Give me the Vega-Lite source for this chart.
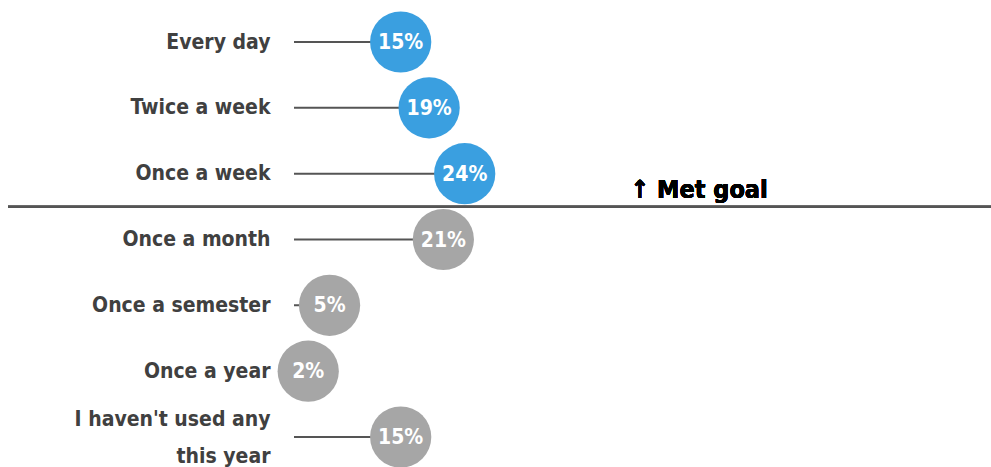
{
  "$schema": "https://vega.github.io/schema/vega-lite/v6.json",
  "width": 983,
  "height": 467,
  "autosize": {"type": "none"},
  "padding": {"left": 8, "right": 0, "top": 0, "bottom": 0},
  "config": {"view": {"stroke": null}, "font": "DejaVu Sans Condensed, Roboto, sans-serif"},
  "data": {
    "values": [
      {"category": "Every day", "value": 0.15, "zero": 0, "met": "yes"},
      {"category": "Twice a week", "value": 0.19, "zero": 0, "met": "yes"},
      {"category": "Once a week", "value": 0.24, "zero": 0, "met": "yes"},
      {"category": "Once a month", "value": 0.21, "zero": 0, "met": "no"},
      {"category": "Once a semester", "value": 0.05, "zero": 0, "met": "no"},
      {"category": "Once a year", "value": 0.02, "zero": 0, "met": "no"},
      {"category": "I haven't used any|this year", "value": 0.15, "zero": 0, "met": "no"}
    ]
  },
  "layer": [
    {
      "mark": {"type": "rule", "color": "#555555", "strokeWidth": 2},
      "encoding": {
        "y": {
          "field": "category",
          "type": "nominal",
          "sort": null,
          "scale": {"type": "point", "range": [42, 437], "padding": 0},
          "axis": {
            "title": null,
            "domain": false,
            "ticks": false,
            "grid": false,
            "offset": -286,
            "labelPadding": 24,
            "labelLimit": 400,
            "labelFont": "DejaVu Sans Condensed, Roboto, sans-serif",
            "labelFontWeight": "bold",
            "labelFontSize": 21,
            "labelColor": "#404040",
            "labelLineHeight": 37,
            "labelOffset": {"condition": {"test": "indexof(datum.value, '|') >= 0", "value": -18}, "value": 0},
            "labelExpr": "split(datum.label, '|')"
          }
        },
        "x": {"field": "zero", "type": "quantitative", "scale": {"domain": [0, 0.98], "range": [286, 983], "zero": false, "nice": false}, "axis": null},
        "x2": {"field": "value"}
      }
    },
    {
      "mark": {"type": "circle", "size": 3750, "opacity": 1},
      "encoding": {
        "y": {"field": "category", "type": "nominal", "sort": null},
        "x": {"field": "value", "type": "quantitative"},
        "color": {"field": "met", "type": "nominal", "scale": {"domain": ["yes", "no"], "range": ["#3A9FE0", "#A6A6A6"]}, "legend": null}
      }
    },
    {
      "mark": {"type": "text", "color": "white", "fontWeight": "bold", "fontSize": 21, "font": "DejaVu Sans Condensed, Roboto, sans-serif", "align": "center", "baseline": "middle", "dy": 1},
      "encoding": {
        "y": {"field": "category", "type": "nominal", "sort": null},
        "x": {"field": "value", "type": "quantitative"},
        "text": {"field": "value", "type": "quantitative", "format": ".0%"}
      }
    },
    {
      "mark": {"type": "rule", "color": "#555555", "strokeWidth": 2, "yOffset": 33},
      "encoding": {
        "y": {"datum": "Once a week", "type": "nominal"}
      }
    },
    {
      "mark": {"type": "text", "color": "black", "fontWeight": "bold", "fontSize": 25, "font": "DejaVu Sans Condensed, Roboto, sans-serif", "align": "left", "baseline": "alphabetic", "dy": 24},
      "encoding": {
        "x": {"datum": 0.473, "type": "quantitative"},
        "y": {"datum": "Once a week", "type": "nominal"},
        "text": {"value": "↑  Met goal"}
      }
    }
  ]
}
